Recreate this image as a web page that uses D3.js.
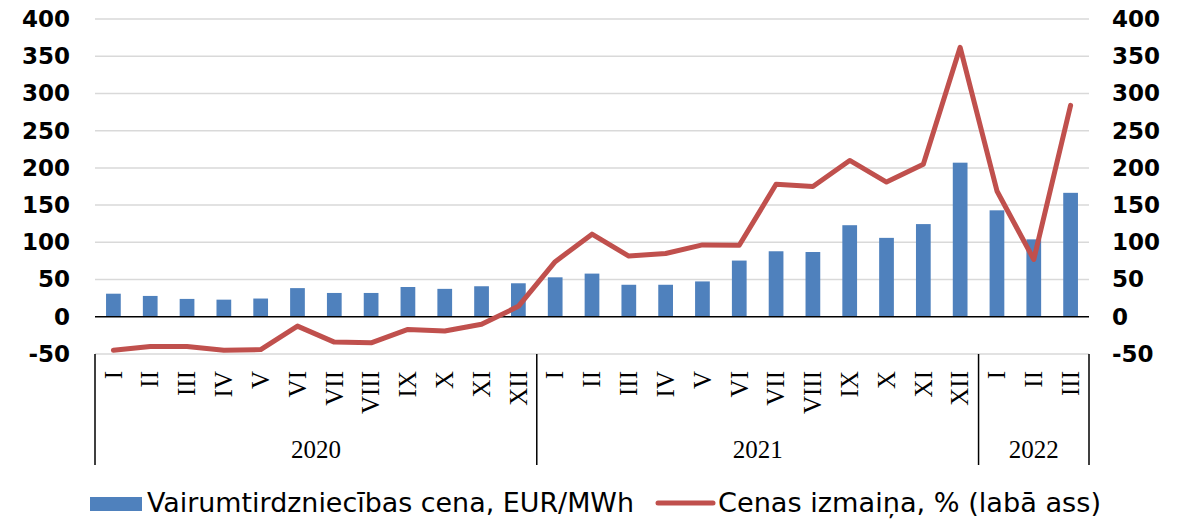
<!DOCTYPE html>
<html>
<head>
<meta charset="utf-8">
<script src="https://cdn.jsdelivr.net/npm/d3@7"></script>
<style>
  body { margin: 0; background: #fff; }
  svg { display: block; }
</style>
</head>
<body>
<div id="container"></div>
<script>
// dati
const months = ['I', 'II', 'III', 'IV', 'V', 'VI', 'VII', 'VIII', 'IX', 'X', 'XI', 'XII',
  'I', 'II', 'III', 'IV', 'V', 'VI', 'VII', 'VIII', 'IX', 'X', 'XI', 'XII',
  'I', 'II', 'III']
const years = ['2020', '2021', '2022']
const yearLengths = [12, 12, 3]
const price = [31, 28, 24, 23, 24.5, 38.5, 32, 32, 40, 37.5, 41, 45,
  53, 58, 43, 43, 47.5, 75.5, 88, 87, 123, 106, 124.5, 207,
  143, 104, 166.5]
const change = [-45, -40, -40, -45, -44, -12.5, -34, -35, -17, -19, -10, 14,
  74, 111, 81.5, 85, 96.5, 96, 178, 175, 210, 181, 205, 362,
  169, 77, 284]
const yTicks = [-50, 0, 50, 100, 150, 200, 250, 300, 350, 400]
const legendLabels = ['Vairumtirdzniecības cena, EUR/MWh', 'Cenas izmaiņa, % (labā ass)']

const W = 1198, H = 524
const plotLeft = 95, plotRight = 1089, plotTop = 19, plotBottom = 354
const blue = '#4f81bd', red = '#c0504d'

const svg = d3.select('#container').append('svg')
  .attr('width', W)
  .attr('height', H)

const x = d3.scaleBand()
  .domain(d3.range(months.length))
  .range([plotLeft, plotRight])
  .paddingInner(0.6)
  .paddingOuter(0.3)

const y = d3.scaleLinear()
  .domain([-50, 400])
  .range([plotBottom, plotTop])

// režģa līnijas
svg.append('g')
  .selectAll('line')
  .data(yTicks.filter(d => d !== 0))
  .join('line')
  .attr('x1', plotLeft)
  .attr('x2', plotRight)
  .attr('y1', d => y(d))
  .attr('y2', d => y(d))
  .attr('stroke', '#d9d9d9')
  .attr('stroke-width', 1.5)

// stabiņi
svg.append('g')
  .selectAll('rect')
  .data(price)
  .join('rect')
  .attr('x', (d, i) => x(i))
  .attr('width', x.bandwidth())
  .attr('y', d => y(d))
  .attr('height', d => y(0) - y(d))
  .attr('fill', blue)

// nulles līnija
svg.append('line')
  .attr('x1', plotLeft)
  .attr('x2', plotRight)
  .attr('y1', y(0))
  .attr('y2', y(0))
  .attr('stroke', '#000')
  .attr('stroke-width', 1.5)

// līkne
const line = d3.line()
  .x((d, i) => x(i) + x.bandwidth() / 2)
  .y(d => y(d))

svg.append('path')
  .datum(change)
  .attr('d', line)
  .attr('fill', 'none')
  .attr('stroke', red)
  .attr('stroke-width', 5)
  .attr('stroke-linejoin', 'round')
  .attr('stroke-linecap', 'round')

// asis
const tickFont = g => g.selectAll('text')
  .attr('font-family', 'DejaVu Sans, Verdana, sans-serif')
  .attr('font-weight', 'bold')
  .attr('font-size', 23)
  .attr('fill', '#000')

const yLeft = d3.axisLeft(y).tickValues(yTicks).tickFormat(d => String(d))
  .tickSize(0).tickPadding(0)
svg.append('g')
  .attr('transform', 'translate(70,0)')
  .call(yLeft)
  .call(g => g.select('.domain').remove())
  .call(tickFont)

const yRight = d3.axisRight(y).tickValues(yTicks).tickFormat(d => String(d))
  .tickSize(0).tickPadding(0)
svg.append('g')
  .attr('transform', 'translate(1112,0)')
  .call(yRight)
  .call(g => g.select('.domain').remove())
  .call(tickFont)

// mēneši
svg.append('g')
  .selectAll('text')
  .data(months)
  .join('text')
  .attr('transform', (d, i) => `translate(${x(i) + x.bandwidth() / 2},371) rotate(-90)`)
  .attr('text-anchor', 'end')
  .attr('dy', '0.33em')
  .attr('font-family', 'Liberation Serif, Times New Roman, serif')
  .attr('font-size', 25)
  .text(d => d)

// gadi un atdalītāji
let start = 0
const bounds = [0]
yearLengths.forEach(n => { start += n; bounds.push(start) })

const xb = i => plotLeft + (plotRight - plotLeft) * i / months.length

svg.append('g')
  .selectAll('line')
  .data(bounds)
  .join('line')
  .attr('x1', d => xb(d))
  .attr('x2', d => xb(d))
  .attr('y1', plotBottom)
  .attr('y2', 465)
  .attr('stroke', '#000')
  .attr('stroke-width', 1.5)

svg.append('g')
  .selectAll('text')
  .data(years)
  .join('text')
  .attr('x', (d, i) => (xb(bounds[i]) + xb(bounds[i + 1])) / 2)
  .attr('y', 458)
  .attr('text-anchor', 'middle')
  .attr('font-family', 'Liberation Serif, Times New Roman, serif')
  .attr('font-size', 25)
  .text(d => d)

// leģenda
const legend = svg.append('g')
  .attr('font-family', 'DejaVu Sans, Verdana, sans-serif')
  .attr('font-size', 26)

legend.append('rect')
  .attr('x', 90).attr('y', 497)
  .attr('width', 52).attr('height', 14)
  .attr('fill', blue)
legend.append('text')
  .attr('x', 147).attr('y', 512)
  .attr('textLength', 487)
  .attr('lengthAdjust', 'spacingAndGlyphs')
  .text(legendLabels[0])

legend.append('line')
  .attr('x1', 658).attr('x2', 713)
  .attr('y1', 503).attr('y2', 503)
  .attr('stroke', red)
  .attr('stroke-width', 5)
  .attr('stroke-linecap', 'round')
legend.append('text')
  .attr('x', 718).attr('y', 512)
  .attr('textLength', 383)
  .attr('lengthAdjust', 'spacingAndGlyphs')
  .text(legendLabels[1])
</script>
</body>
</html>
